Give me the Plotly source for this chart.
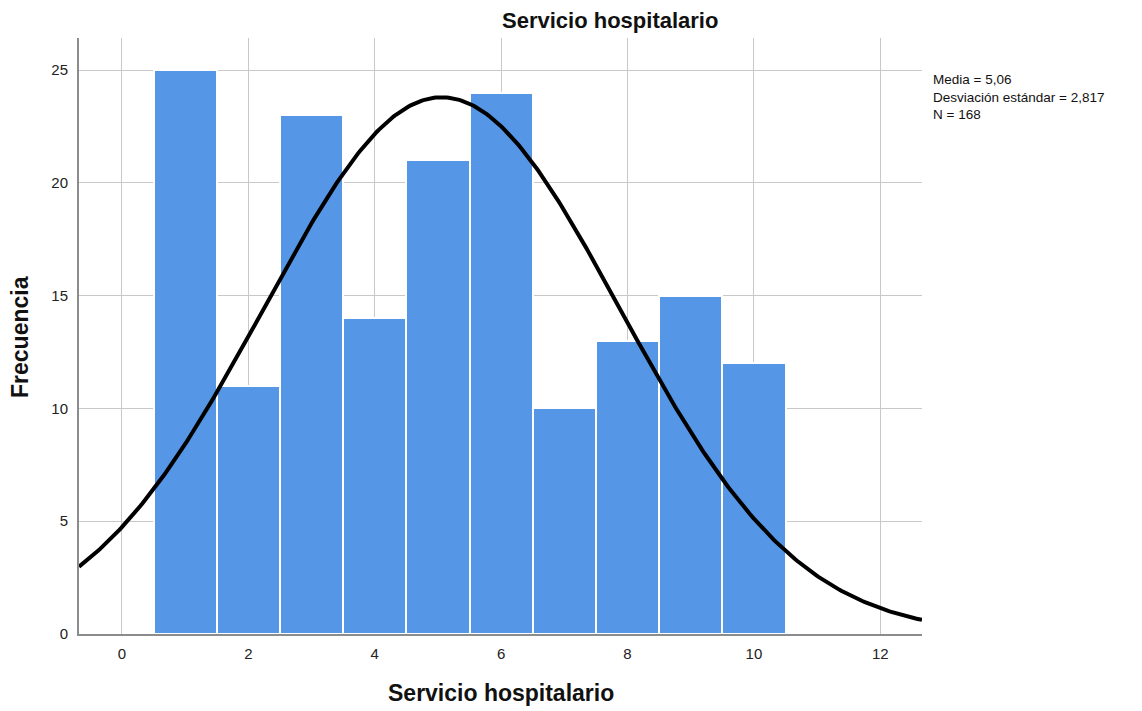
import numpy as np
import plotly.graph_objects as go

bin_centers = [1, 2, 3, 4, 5, 6, 7, 8, 9, 10]
counts = [25, 11, 23, 14, 21, 24, 10, 13, 15, 12]
mean = 5.06
sd = 2.817
n = 168
bin_width = 1.0

x_range = [-0.68, 12.66]
y_range = [0, 26.42]

xs = np.linspace(x_range[0], x_range[1], 400)
ys = n * bin_width / (sd * np.sqrt(2 * np.pi)) * np.exp(-0.5 * ((xs - mean) / sd) ** 2)

# plot area target: x 79..922, y 38..634 (page body margin removed below)
W, H = 1142, 711
L, T = 79, 38
R = W - 922
B = H - 634
pw, ph = 922 - 79, 634 - 38

fig = go.Figure()
fig.add_trace(go.Bar(
    x=bin_centers, y=counts, width=bin_width,
    marker=dict(color="#5596E6", line=dict(color="#FFFFFF", width=2)),
    showlegend=False, hoverinfo="x+y",
))
fig.add_trace(go.Scatter(
    x=xs, y=ys, mode="lines", line=dict(color="black", width=4),
    showlegend=False, hoverinfo="skip",
))

font_family = "Liberation Sans, Arial, sans-serif"
fig.update_layout(
    width=W, height=H,
    margin=dict(l=L, r=R, t=T, b=B),
    plot_bgcolor="white", paper_bgcolor="white",
    bargap=0,
    font=dict(family=font_family, size=15, color="#222222"),
    xaxis=dict(
        range=x_range, tickvals=[0, 2, 4, 6, 8, 10, 12],
        showgrid=True, gridcolor="#C8C8C8", gridwidth=1.3,
        showline=True, linecolor="#8C8C8C", linewidth=2,
        zeroline=False, ticks="outside", ticklen=5, tickcolor="rgba(0,0,0,0)",
        tickfont=dict(size=15, color="#222222"),
    ),
    yaxis=dict(
        range=y_range, tickvals=[0, 5, 10, 15, 20, 25],
        showgrid=True, gridcolor="#C8C8C8", gridwidth=1.3,
        showline=True, linecolor="#8C8C8C", linewidth=2,
        zeroline=False, ticks="outside", ticklen=6, tickcolor="rgba(0,0,0,0)",
        tickfont=dict(size=15, color="#222222"),
    ),
    annotations=[
        dict(text="<b>Servicio hospitalario</b>", xref="paper", yref="paper",
             x=(610 - 79) / pw, y=1, yshift=18, showarrow=False,
             xanchor="center", yanchor="middle",
             font=dict(size=22, color="#111111")),
        dict(text="<b>Servicio hospitalario</b>", xref="paper", yref="paper",
             x=(501 - 79) / pw, y=0, yshift=-59, showarrow=False,
             xanchor="center", yanchor="middle",
             font=dict(size=23, color="#111111")),
        dict(text="<b>Frecuencia</b>", xref="paper", yref="paper",
             x=0, xshift=-(79 - 20), y=(634 - 337) / ph, showarrow=False,
             xanchor="center", yanchor="middle", textangle=-90,
             font=dict(size=23, color="#111111")),
        dict(text="Media = 5,06<br>Desviación estándar = 2,817<br>N = 168",
             xref="paper", yref="paper", x=1, xshift=9,
             y=(634 - 70) / ph, showarrow=False,
             xanchor="left", yanchor="top", align="left",
             font=dict(size=13.5, color="#111111")),
    ],
)

fig.write_html(
    "out.html",
    config={"displayModeBar": False},
    post_script="document.body.style.margin='0';document.body.style.overflow='hidden';",
)
